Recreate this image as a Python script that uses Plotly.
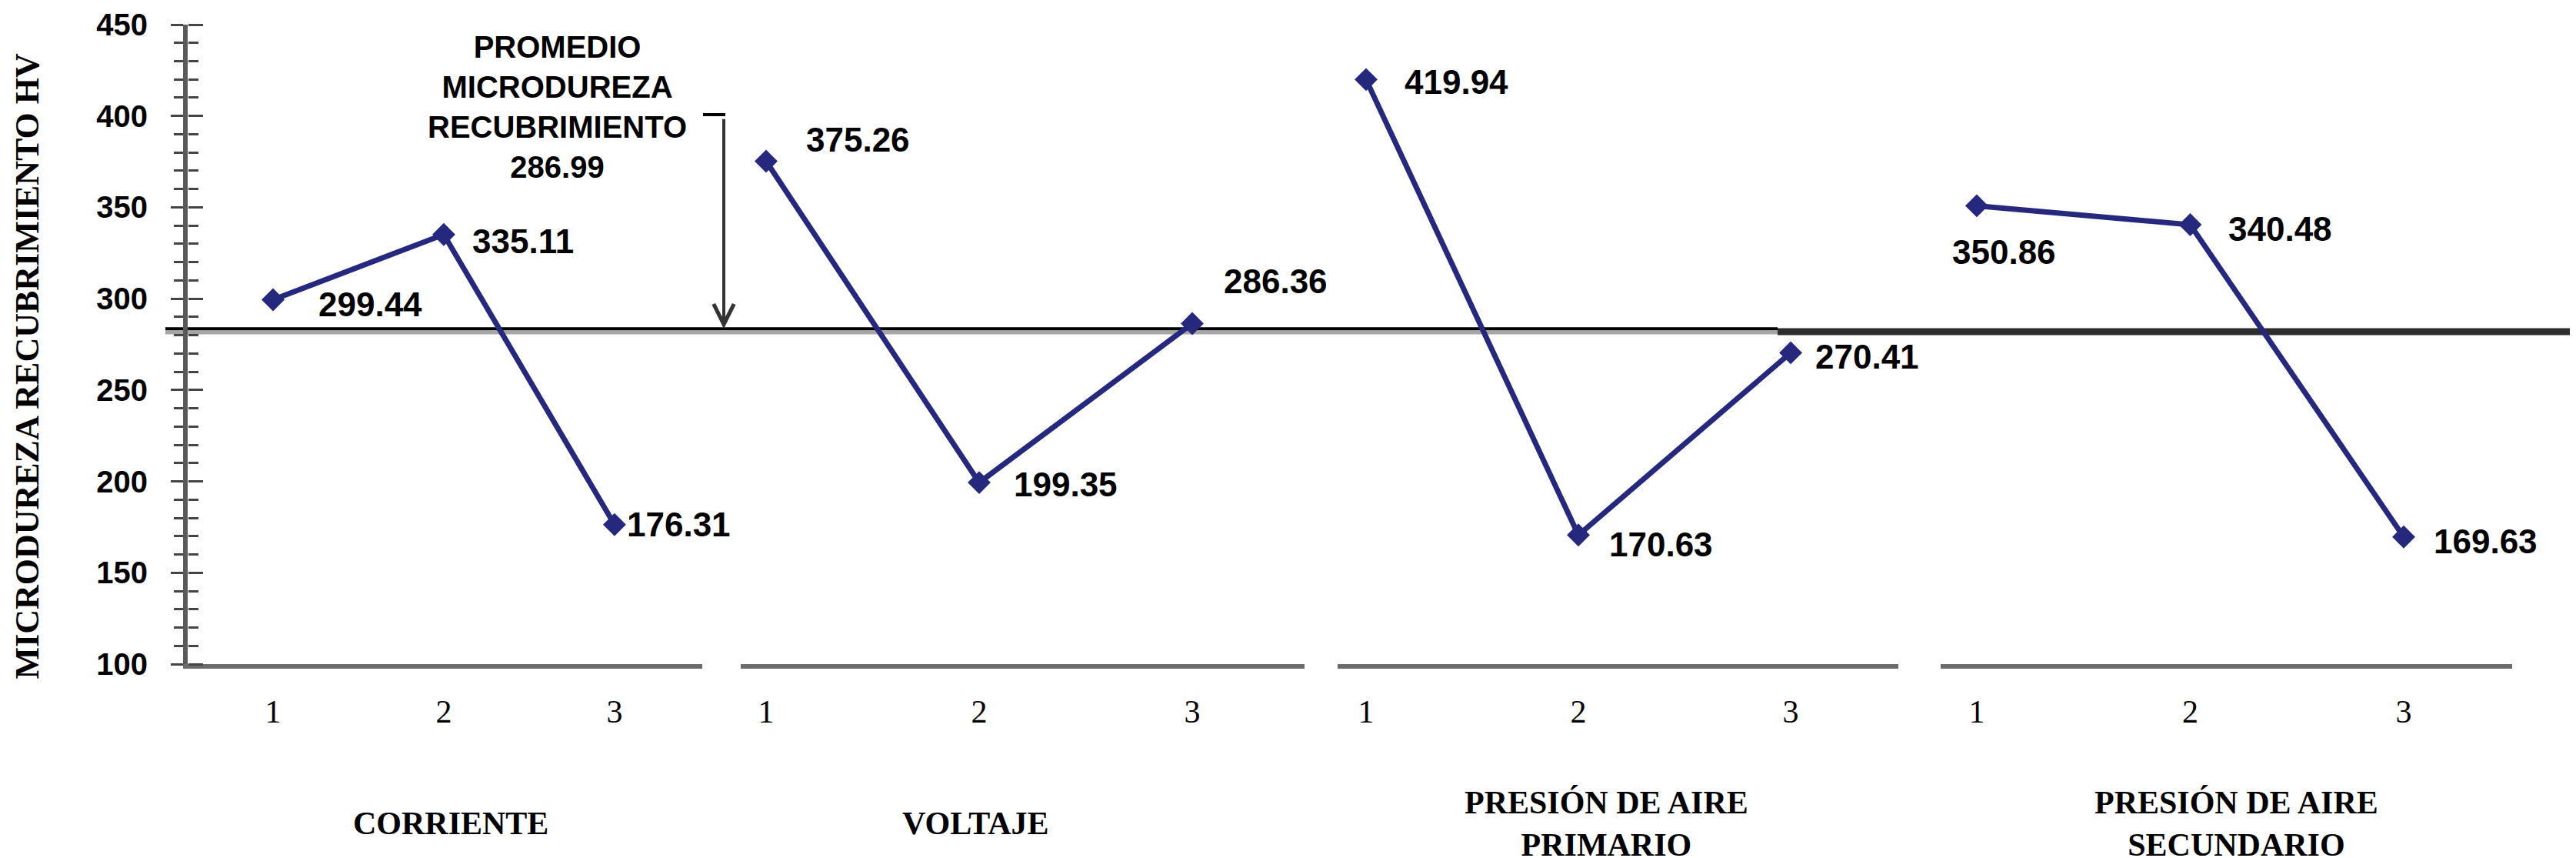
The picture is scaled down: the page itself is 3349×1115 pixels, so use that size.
import plotly.graph_objects as go

# ---------------- data ----------------
GROUPS = ["CORRIENTE", "VOLTAJE", "PRESIÓN DE AIRE<br>PRIMARIO", "PRESIÓN DE AIRE<br>SECUNDARIO"]
LEVELS = ["1", "2", "3"]
CORRIENTE = [299.44, 335.11, 176.31]
VOLTAJE = [375.26, 199.35, 286.36]
PRESION_PRIMARIO = [419.94, 170.63, 270.41]
PRESION_SECUNDARIO = [350.86, 340.48, 169.63]
SERIES = [CORRIENTE, VOLTAJE, PRESION_PRIMARIO, PRESION_SECUNDARIO]
PROMEDIO = 286.99            # value printed in the callout
PROMEDIO_LINE = 283.5        # height at which the reference draws the average line
Y_TICKS = [100, 150, 200, 250, 300, 350, 400, 450]
Y_TITLE = "MICRODUREZA RECUBRIMIENTO HV"
PROMEDIO_TEXT = ["PROMEDIO", "MICRODUREZA", "RECUBRIMIENTO"]

# ---------------- layout helpers (pixels of the 3349x1115 canvas) ----------------
W, H = 3349, 1115
M_T, M_B = 24, 260
PLOT_H = H - M_T - M_B


def px(x):
    return x / W


def py(y):
    return (H - M_B - y) / PLOT_H


AX_DOMAINS = [(236, 905), (955, 1688), (1731, 2460), (2515, 3258)]
AX_RANGES = [(-0.5, 2.514), (-0.119, 2.527), (-0.134, 2.507), (-0.169, 2.508)]
GROUP_LABEL_X = [578, 1260, 2080, 2899]
LABEL_SHIFTS = [
    [(57, -6), (35, -9), (14, 0)],
    [(50, 28), (43, -2), (39, 55)],
    [(48, -3), (38, -12), (30, -5)],
    [(-34, -60), (48, -5), (37, -6)],
]

LINE_COLOR = "#25287C"
SANS = "Liberation Sans, Arial, sans-serif"
SERIF = "Liberation Serif, Times New Roman, serif"

fig = go.Figure()

for i, vals in enumerate(SERIES):
    xa = "x" if i == 0 else f"x{i + 1}"
    fig.add_trace(go.Scatter(
        x=LEVELS, y=vals, xaxis=xa, yaxis="y",
        mode="lines+markers",
        line=dict(color=LINE_COLOR, width=7),
        marker=dict(symbol="diamond", size=23, color=LINE_COLOR),
        showlegend=False, hoverinfo="x+y",
    ))

# dummy trace so the inner-tick axis is drawn
fig.add_trace(go.Scatter(x=[None], y=[None], xaxis="x", yaxis="y2",
                         showlegend=False, hoverinfo="skip"))

layout = dict(
    width=W, height=H,
    margin=dict(l=0, r=0, t=M_T, b=M_B, autoexpand=False),
    paper_bgcolor="white", plot_bgcolor="white",
    showlegend=False,
    yaxis=dict(
        range=[100, 450], tickvals=Y_TICKS, anchor="x",
        showline=True, linewidth=6, linecolor="#5a5a5a",
        ticks="outside", ticklen=16, tickwidth=3, tickcolor="#444444",
        minor=dict(dtick=10, ticks="outside", ticklen=12, tickwidth=3, tickcolor="#444444"),
        tickfont=dict(family=SANS, size=40, color="black", weight="bold"),
        ticklabelstandoff=22, ticklabeloverflow="allow",
        showgrid=False, zeroline=False, automargin=False,
    ),
    yaxis2=dict(
        range=[100, 450], tickvals=Y_TICKS, overlaying="y", side="right",
        anchor="free", position=px(AX_DOMAINS[0][0]),
        showline=False, showticklabels=False,
        ticks="outside", ticklen=19, tickwidth=3, tickcolor="#444444",
        minor=dict(dtick=10, ticks="outside", ticklen=13, tickwidth=3, tickcolor="#444444"),
        showgrid=False, zeroline=False, automargin=False,
    ),
)

for i, (dom, rng) in enumerate(zip(AX_DOMAINS, AX_RANGES)):
    key = "xaxis" if i == 0 else f"xaxis{i + 1}"
    layout[key] = dict(
        domain=[px(dom[0]), px(dom[1])], range=list(rng), type="category",
        anchor="y", showline=True, linewidth=6, linecolor="#6b6b6b",
        ticks="outside", ticklen=20, tickcolor="rgba(0,0,0,0)",
        tickfont=dict(family=SERIF, size=42, color="black"),
        showgrid=False, zeroline=False, automargin=False,
    )

fig.update_layout(**layout)

annotations = []
# value labels (category axes: annotation x is the category index)
for i, vals in enumerate(SERIES):
    xr = "x" if i == 0 else f"x{i + 1}"
    for j, v in enumerate(vals):
        dx, dy = LABEL_SHIFTS[i][j]
        annotations.append(dict(
            x=j, y=v, xref=xr, yref="y", text=f"{v:.2f}",
            showarrow=False, xanchor="left", yanchor="middle",
            xshift=dx, yshift=dy,
            font=dict(family=SANS, size=44, color="black", weight="bold"),
        ))

# group (category) labels
for g, gx in zip(GROUPS, GROUP_LABEL_X):
    annotations.append(dict(
        x=px(gx), y=py(1062), xref="paper", yref="paper", text=g,
        showarrow=False, xanchor="center", yanchor="middle",
        font=dict(family=SERIF, size=42, color="black", weight="bold"),
    ))

# y axis title
annotations.append(dict(
    x=px(27), y=py(877), xref="paper", yref="paper", text=Y_TITLE,
    showarrow=False, xanchor="center", yanchor="bottom", textangle=-90,
    font=dict(family=SERIF, size=44, color="black", weight="bold"),
))

# average callout text
annotations.append(dict(
    x=px(716), y=py(131), xref="paper", yref="paper",
    text="<br>".join(PROMEDIO_TEXT + [f"{PROMEDIO:.2f}"]),
    showarrow=False, xanchor="center", yanchor="middle",
    font=dict(family=SANS, size=40, color="black", weight="bold"),
))

# arrow down to the average line
annotations.append(dict(
    x=px(933), y=PROMEDIO_LINE, xref="paper", yref="y", text="",
    showarrow=True, ax=0, ay=-274, axref="pixel", ayref="pixel",
    arrowhead=5, arrowsize=1.3, arrowwidth=4, arrowcolor="#333333", standoff=0,
))

fig.update_layout(annotations=annotations)

shapes = [
    # average line (left, thin black with gray shadow)
    dict(type="line", xref="paper", yref="y", x0=px(207), x1=px(2303),
         y0=PROMEDIO_LINE - 2.0, y1=PROMEDIO_LINE - 2.0,
         line=dict(color="#a5a5a5", width=5), layer="below"),
    dict(type="line", xref="paper", yref="y", x0=px(207), x1=px(2303),
         y0=PROMEDIO_LINE, y1=PROMEDIO_LINE,
         line=dict(color="black", width=4), layer="below"),
    # average line (right, thick dark)
    dict(type="line", xref="paper", yref="y", x0=px(2303), x1=1.0,
         y0=PROMEDIO_LINE - 1.6, y1=PROMEDIO_LINE - 1.6,
         line=dict(color="#2d2d2d", width=9), layer="below"),
    # bracket at top of arrow
    dict(type="line", xref="paper", yref="paper", x0=px(906), x1=px(935),
         y0=py(141), y1=py(141), line=dict(color="black", width=4)),
]
fig.update_layout(shapes=shapes)

fig.write_html("out.html")
